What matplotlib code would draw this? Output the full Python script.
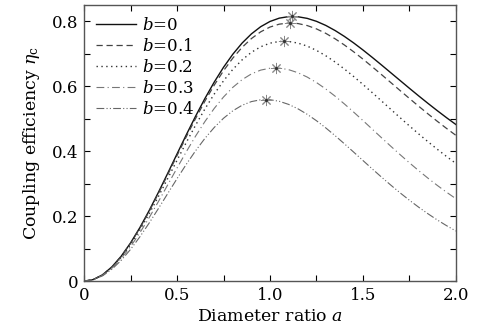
import numpy as np
import matplotlib
matplotlib.use('Agg')
import matplotlib.pyplot as plt

plt.rcParams['font.family'] = 'DejaVu Serif'
plt.rcParams['mathtext.fontset'] = 'dejavuserif'

# diameter ratio a
a = [0.00, 0.05, 0.10, 0.15, 0.20, 0.25, 0.30, 0.35, 0.40, 0.45,
     0.50, 0.55, 0.60, 0.65, 0.70, 0.75, 0.80, 0.85, 0.90, 0.95,
     1.00, 1.05, 1.10, 1.15, 1.20, 1.25, 1.30, 1.35, 1.40, 1.45,
     1.50, 1.55, 1.60, 1.65, 1.70, 1.75, 1.80, 1.85, 1.90, 1.95, 2.00]

# coupling efficiency for each obscuration ratio b
eta_b0 = [0.0, 0.0050, 0.0198, 0.0440, 0.0769, 0.1175, 0.1646, 0.2170, 0.2733, 0.3319,
          0.3914, 0.4505, 0.5078, 0.5621, 0.6125, 0.6581, 0.6983, 0.7327, 0.7609, 0.7831,
          0.7992, 0.8094, 0.8141, 0.8137, 0.8087, 0.7996, 0.7870, 0.7713, 0.7532, 0.7331,
          0.7114, 0.6886, 0.6651, 0.6412, 0.6173, 0.5934, 0.5699, 0.5469, 0.5245, 0.5028, 0.4819]
eta_b1 = [0.0, 0.0049, 0.0196, 0.0436, 0.0761, 0.1162, 0.1628, 0.2146, 0.2701, 0.3279,
          0.3865, 0.4446, 0.5008, 0.5540, 0.6032, 0.6475, 0.6864, 0.7195, 0.7465, 0.7673,
          0.7820, 0.7909, 0.7944, 0.7928, 0.7866, 0.7763, 0.7626, 0.7459, 0.7268, 0.7058,
          0.6833, 0.6597, 0.6355, 0.6110, 0.5864, 0.5621, 0.5381, 0.5146, 0.4918, 0.4698, 0.4486]
eta_b2 = [0.0, 0.0048, 0.0190, 0.0422, 0.0737, 0.1125, 0.1575, 0.2073, 0.2606, 0.3160,
          0.3719, 0.4270, 0.4801, 0.5300, 0.5757, 0.6164, 0.6517, 0.6810, 0.7042, 0.7213,
          0.7324, 0.7377, 0.7377, 0.7327, 0.7234, 0.7101, 0.6936, 0.6744, 0.6529, 0.6297,
          0.6053, 0.5801, 0.5544, 0.5286, 0.5029, 0.4776, 0.4529, 0.4289, 0.4057, 0.3834, 0.3621]
eta_b3 = [0.0, 0.0045, 0.0180, 0.0400, 0.0697, 0.1063, 0.1486, 0.1953, 0.2450, 0.2964,
          0.3480, 0.3984, 0.4465, 0.4912, 0.5315, 0.5667, 0.5964, 0.6201, 0.6378, 0.6495,
          0.6553, 0.6557, 0.6509, 0.6415, 0.6281, 0.6112, 0.5914, 0.5693, 0.5454, 0.5202,
          0.4942, 0.4677, 0.4412, 0.4150, 0.3892, 0.3641, 0.3399, 0.3167, 0.2945, 0.2735, 0.2536]
eta_b4 = [0.0, 0.0042, 0.0166, 0.0368, 0.0642, 0.0977, 0.1363, 0.1787, 0.2236, 0.2696,
          0.3154, 0.3597, 0.4014, 0.4394, 0.4729, 0.5013, 0.5242, 0.5413, 0.5526, 0.5582,
          0.5584, 0.5535, 0.5440, 0.5305, 0.5135, 0.4937, 0.4716, 0.4478, 0.4228, 0.3971,
          0.3712, 0.3454, 0.3200, 0.2954, 0.2716, 0.2489, 0.2274, 0.2072, 0.1882, 0.1706, 0.1542]

labels = ['$b$=0', '$b$=0.1', '$b$=0.2', '$b$=0.3', '$b$=0.4']

# maxima (asterisks)
peak_a = [1.12, 1.105, 1.075, 1.03, 0.98]
peak_eta = [0.8145, 0.7945, 0.738, 0.6565, 0.559]

fig = plt.figure(figsize=(4.83, 3.30), dpi=100)
ax = fig.add_axes([0.174, 0.148, 0.770, 0.837])

curves = [eta_b0, eta_b1, eta_b2, eta_b3, eta_b4]
styles = ['-', (0, (5, 3)), (0, (1, 2.5)), (0, (7, 3, 1, 3)), (0, (7, 2, 1, 2, 1, 2))]
colors = ['#111111', '#444444', '#333333', '#777777', '#666666']
widths = [1.0, 0.9, 1.0, 0.8, 0.8]

for eta, ls, c, w, lab in zip(curves, styles, colors, widths, labels):
    ax.plot(a, eta, linestyle=ls, color=c, lw=w, label=lab)

ax.plot(peak_a, peak_eta, linestyle='none', marker=(8, 2, 0), ms=8,
        mec='#888888', mew=0.7)
ax.plot(peak_a, peak_eta, linestyle='none', marker='.', ms=2.5, color='#333333')

ax.set_xlim(0, 2.0)
ax.set_ylim(0, 0.85)
ax.set_xticks([0, 0.5, 1.0, 1.5, 2.0])
ax.set_xticklabels(['0', '0.5', '1.0', '1.5', '2.0'])
ax.set_xticks([0.25, 0.75, 1.25, 1.75], minor=True)
ax.set_yticks([0, 0.2, 0.4, 0.6, 0.8])
ax.set_yticklabels(['0', '0.2', '0.4', '0.6', '0.8'])
ax.set_yticks([0.1, 0.3, 0.5, 0.7], minor=True)
ax.tick_params(which='both', direction='in', top=True, right=True,
               length=4, width=0.8, labelsize=12, pad=4)
for s in ax.spines.values():
    s.set_linewidth(1.0)
    s.set_color('#555555')

ax.set_xlabel('Diameter ratio $a$', fontsize=12.5, labelpad=3)
ax.set_ylabel('Coupling efficiency $\\eta_{\\rm c}$', fontsize=12.5, labelpad=7)

ax.legend(loc='upper left', bbox_to_anchor=(0.0, 1.0), frameon=False,
          fontsize=12, handlelength=2.4, handletextpad=0.4, labelspacing=0.25,
          borderaxespad=0.3)

fig.savefig('out.png', dpi=100)
